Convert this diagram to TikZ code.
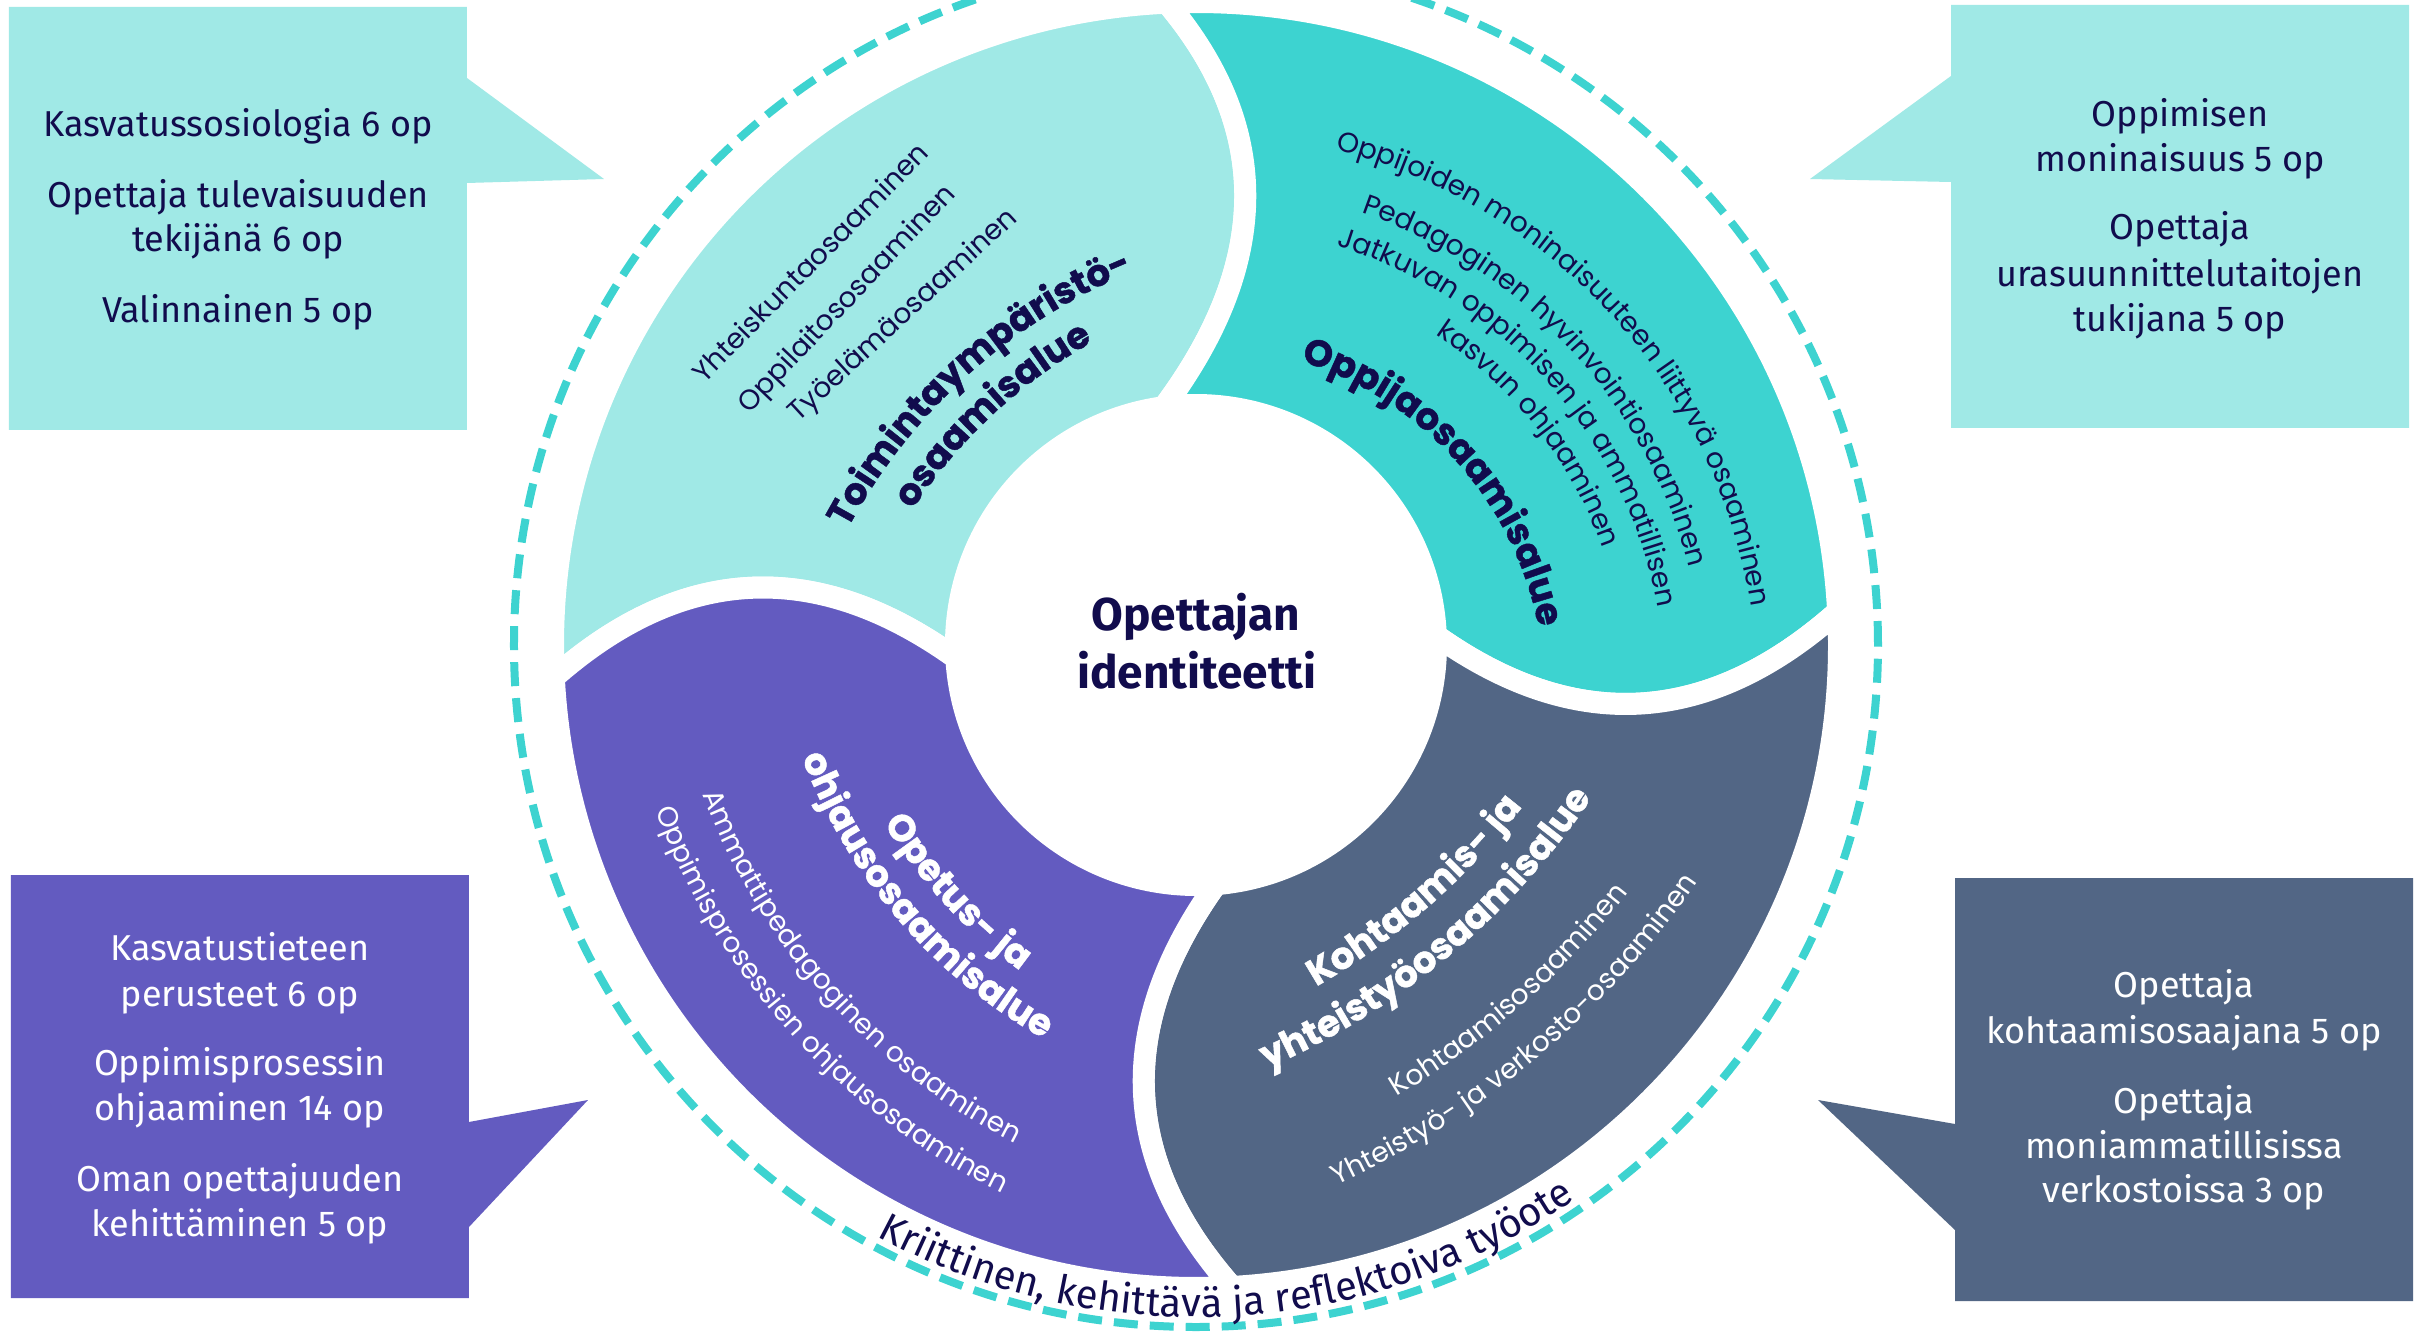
\documentclass[tikz,border=0pt]{standalone}
\usepackage{fontspec}
\setmainfont{Fira Sans}
\newfontfamily\pop{Poppins}
\newfontfamily\popH{Poppins}[BoldFeatures={FakeBold=1.2}]
\usetikzlibrary{calc,decorations.text}
\definecolor{navy}{HTML}{110C4D}
\definecolor{cLt}{HTML}{A0E9E6}
\definecolor{cTe}{HTML}{3DD3D0}
\definecolor{cPu}{HTML}{635BC0}
\definecolor{cSl}{HTML}{526685}
\def\ro{643}\def\ri{240}\def\kk{107}
\newcommand\capfwd[3]{.. controls ($(#1:\ro)!1/3!(#2:\ri)+(#3:\kk)$) and ($(#2:\ri)!1/3!(#1:\ro)+(#3:\kk)$) .. (#2:\ri)}
\newcommand\capbwd[3]{.. controls ($(#2:\ri)!1/3!(#1:\ro)+(#3:\kk)$) and ($(#1:\ro)!1/3!(#2:\ri)+(#3:\kk)$) .. (#1:\ro)}
\newcommand\arctext[6]{\path[decorate,decoration={text along path,text align=center,text={|#5|#6}}] ($(#1)+(#3:#2)$) arc[start angle=#3,end angle=#4,radius=#2];}
\newcommand\lsN{\pop\fontsize{14}{16}\selectfont\color{navy}}
\newcommand\lsW{\pop\fontsize{14}{16}\selectfont\color{white}}
\newcommand\tsN{\popH\bfseries\fontsize{18.5}{22}\selectfont\color{navy}}
\newcommand\tsW{\popH\bfseries\fontsize{18.5}{22}\selectfont\color{white}}
\newcommand\botfmt{\fontsize{20}{24}\selectfont\color{navy}}
\tikzset{
  piece/.style={draw=white,line width=11pt,line join=round},
  btN/.style={font=\fontsize{18}{22}\selectfont,text=navy,inner sep=0pt,anchor=base},
  btW/.style={font=\fontsize{18}{22}\selectfont,text=white,inner sep=0pt,anchor=base},
  ctr/.style={font=\fontsize{23}{28}\selectfont\bfseries,text=navy,inner sep=0pt,anchor=base},
  lsn/.style={font=\pop\fontsize{14}{16}\selectfont,text=navy,inner sep=0pt}
}
\begin{document}
\begin{tikzpicture}[x=0.5pt,y=0.5pt]
\useasboundingbox (-1196,-694) rectangle (1234,645);
\fill[white] (-1196,-694) rectangle (1234,645);
% callout boxes
\fill[cLt] (-1187,215) -- (-1187,638) -- (-729,638) -- (-729,567) -- (-592,466) -- (-729,462) -- (-729,215) -- cycle;
\fill[cLt] (1213,217) -- (1213,640) -- (755,640) -- (755,569) -- (614,466) -- (755,463) -- (755,217) -- cycle;
\fill[cPu] (-1185,-653) -- (-1185,-230) -- (-727,-230) -- (-727,-477) -- (-608,-455) -- (-727,-582) -- (-727,-653) -- cycle;
\fill[cSl] (1217,-656) -- (1217,-233) -- (759,-233) -- (759,-479) -- (622,-455) -- (759,-585) -- (759,-656) -- cycle;
% box texts
\node[btN] (tl1) at (-958,508) {Kasvatussosiologia 6 op};
\node[btN] (tl2) at (-958,437) {Opettaja tulevaisuuden};
\node[btN] (tl3) at (-958,393) {tekijänä 6 op};
\node[btN] (tl4) at (-958,322) {Valinnainen 5 op};
\node[btN] (tr1) at (984,518) {Oppimisen};
\node[btN] (tr2) at (984,473) {moninaisuus 5 op};
\node[btN] (tr3) at (984,405) {Opettaja};
\node[btN] (tr4) at (984,358) {urasuunnittelutaitojen};
\node[btN] (tr5) at (984,313) {tukijana 5 op};
\node[btW] (bl1) at (-956,-315) {Kasvatustieteen};
\node[btW] (bl2) at (-956,-361) {perusteet 6 op};
\node[btW] (bl3) at (-956,-430) {Oppimisprosessin};
\node[btW] (bl4) at (-956,-475) {ohjaaminen 14 op};
\node[btW] (bl5) at (-956,-546) {Oman opettajuuden};
\node[btW] (bl6) at (-956,-591) {kehittäminen 5 op};
\node[btW] (br1) at (988,-352) {Opettaja};
\node[btW] (br2) at (988,-398) {kohtaamisosaajana 5 op};
\node[btW] (br3) at (988,-468) {Opettaja};
\node[btW] (br4) at (988,-513) {moniammatillisissa};
\node[btW] (br5) at (988,-557) {verkostoissa 3 op};
% ring pieces
\path[piece,fill=cLt] (182.9:\ro) arc[start angle=182.9,end angle=92.6,radius=\ro] \capfwd{92.6}{97.7}{5.15} arc[start angle=97.7,end angle=183.2,radius=\ri] \capbwd{182.9}{183.2}{93.05} -- cycle;
\path[piece,fill=cTe] (92.6:\ro) arc[start angle=92.6,end angle=3.0,radius=\ro] \capfwd{3.0}{2.3}{-87.35} arc[start angle=2.3,end angle=97.7,radius=\ri] \capbwd{92.6}{97.7}{5.15} -- cycle;
\path[piece,fill=cSl] (3.0:\ro) arc[start angle=3.0,end angle=-86.8,radius=\ro] \capfwd{-86.8}{-85.2}{-176} arc[start angle=-85.2,end angle=2.3,radius=\ri] \capbwd{3.0}{2.3}{-87.35} -- cycle;
\path[piece,fill=cPu] (-86.8:\ro) arc[start angle=-86.8,end angle=-177.1,radius=\ro] \capfwd{-177.1}{-176.8}{93.05} arc[start angle=-176.8,end angle=-85.2,radius=\ri] \capbwd{-86.8}{-85.2}{-176} -- cycle;
% dashed ring
\draw[cTe,line width=4pt,dash pattern=on 12pt off 6pt] (0,0) circle[radius=682];
% arc centres
\coordinate (Qt) at (0,-49);
\coordinate (Ql) at (150,-150);
\coordinate (Qp) at (113,79);
\coordinate (Qs) at (-230,268);
\coordinate (Qc) at (0,0);
% light teal area
\node[lsn,rotate=45.4] (lt1) at (-386,383) {Yhteiskuntaosaaminen};
\node[lsn,rotate=46.6] (lt2) at (-348,345) {Oppilaitososaaminen};
\node[lsn,rotate=42.6] (lt3) at (-292,329) {Työelämäosaaminen};
\arctext{Ql}{565}{192}{72}{\tsN}{Toimintaympäristö-}
\arctext{Ql}{519}{192.9}{72.9}{\tsN}{osaamisalue}
% teal area
\arctext{Qt}{562}{102.3}{-17.7}{\lsN}{Oppijoiden moninaisuuteen liittyvä osaaminen}
\arctext{Qt}{509}{102.7}{-17.3}{\lsN}{Pedagoginen hyvinvointiosaaminen}
\arctext{Qt}{470}{101.6}{-18.4}{\lsN}{Jatkuvan oppimisen ja ammatillisen}
\arctext{Qt}{432}{98}{-22}{\lsN}{kasvun ohjaaminen}
\arctext{Qt}{349}{101.8}{-18.2}{\tsN}{Oppijaosaamisalue}
% purple area
\arctext{Qp}{497}{162.8}{282.8}{\tsW}{Opetus- ja}
\arctext{Qp}{542}{160.7}{280.7}{\tsW}{ohjausosaamisalue}
\arctext{Qp}{648}{161.8}{281.8}{\lsW}{Ammattipedagoginen osaaminen}
\arctext{Qp}{698}{162.2}{282.2}{\lsW}{Oppimisprosessien ohjausosaaminen}
% slate area
\arctext{Qs}{703}{-88.9}{-8.9}{\tsW}{Kohtaamis- ja}
\arctext{Qs}{754}{-90.2}{-10.2}{\tsW}{yhteistyöosaamisalue}
\arctext{Qs}{839}{-88.5}{-8.5}{\lsW}{Kohtaamisosaaminen}
\arctext{Qs}{889}{-90}{-10}{\lsW}{Yhteistyö- ja verkosto-osaaminen}
% bottom text
\arctext{Qc}{672}{-147}{-27}{\botfmt}{Kriittinen, kehittävä ja reflektoiva työote}
% centre
\node[ctr] (id1) at (0,15) {Opettajan};
\node[ctr] (id2) at (1,-43) {identiteetti};
\end{tikzpicture}
\end{document}
